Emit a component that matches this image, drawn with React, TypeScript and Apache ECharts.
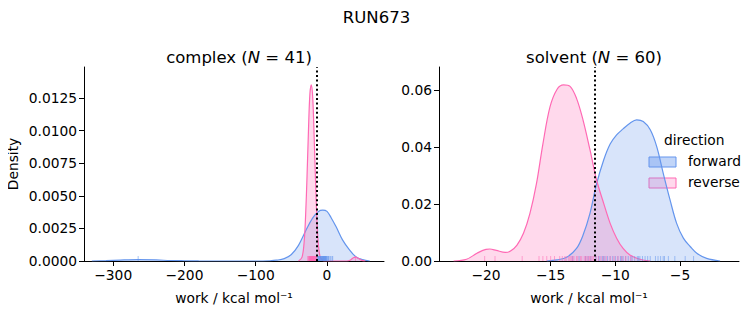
import React, { useEffect, useRef } from "react";
import * as echarts from "echarts";

// ---- data ----
const complexForwardKde: [number, number][] = [
  [-330, 0], [-310, 0.00003], [-290, 0.00007], [-265, 0.0001], [-240, 0.00008], [-220, 0.00004],
  [-200, 0.00002], [-180, 0.000005], [-150, 0], [-100, 0], [-80, 0.00002], [-71, 0.00006],
  [-60, 0.00018], [-50, 0.0005], [-40, 0.0012], [-30, 0.0023], [-20, 0.0033], [-12, 0.0038],
  [-6, 0.0039], [0, 0.0038], [6, 0.0033], [13, 0.0026], [22, 0.0016], [31, 0.0009], [41, 0.0003],
  [50, 0.0001], [60, 0],
];
const complexReverseKde: [number, number][] = [
  [-40, 0], [-35, 0.0003], [-32, 0.0015], [-30, 0.0035], [-28, 0.0065], [-26, 0.01], [-24, 0.0128],
  [-22, 0.0135], [-20, 0.0125], [-18, 0.0095], [-16, 0.006], [-14, 0.003], [-12, 0.0012],
  [-10, 0.0004], [-7, 0.0001], [-4, 0], [28, 0], [33, 0.00008], [37, 0.00025], [40, 0.0003],
  [44, 0.0002], [49, 0.00005], [54, 0],
];
const solventForwardKde: [number, number][] = [
  [-15.3, 0], [-14.5, 0.0004], [-13.76, 0.0013], [-13.0, 0.0044], [-12.5, 0.009], [-11.96, 0.0167],
  [-11.45, 0.027], [-10.9, 0.0354], [-10.4, 0.041], [-9.9, 0.0442], [-9.4, 0.0463], [-8.87, 0.0483],
  [-8.35, 0.0495], [-7.84, 0.0489], [-7.3, 0.046], [-6.8, 0.0401], [-6.3, 0.0308], [-5.77, 0.0214],
  [-5.26, 0.0132], [-4.74, 0.008], [-4.2, 0.005], [-3.7, 0.0027], [-2.94, 0.0009], [-1.9, 0],
];
const solventReverseKde: [number, number][] = [
  [-22.5, 0], [-21.5, 0.0006], [-20.7, 0.0027], [-20.0, 0.0041], [-19.7, 0.0042], [-19.2, 0.0037],
  [-18.5, 0.003], [-18.1, 0.0035], [-17.6, 0.0056], [-17.1, 0.0097], [-16.6, 0.0167], [-16.1, 0.027],
  [-15.6, 0.041], [-15.05, 0.054], [-14.5, 0.0602], [-14.0, 0.0617], [-13.5, 0.0612], [-13.0, 0.057],
  [-12.5, 0.0495], [-11.96, 0.039], [-11.45, 0.0284], [-10.9, 0.0202], [-10.4, 0.0132], [-9.9, 0.008],
  [-9.4, 0.0044], [-8.87, 0.0021], [-8.1, 0.0006], [-7.3, 0],
];

const complexForwardRug = [
  -265, -14.5, -13, -12, -11.2, -10.5, -10, -9.3, -8.8, -8.1, -7.5, -7, -6.4, -6, -5.5, -5, -4.4, -4,
  -3.5, -3, -2.6, -2, -1.5, -1, -0.3, 0.5, 1.5, 3, 5, 7, -9.7, -6.7, -4.8, -2.3, -12.5, -11.7, -8.4,
  -3.8, -1.2, 2.2, 8,
];
const complexReverseRug = [
  -27, -26.2, -25.5, -25, -24.6, -24.1, -23.7, -23.3, -23, -22.6, -22.3, -22, -21.7, -21.4, -21.1,
  -20.8, -20.5, -20.2, -19.9, -19.5, -19.1, -18.7, -18.3, -17.9, -17.4, -17, -16.5, -16, -15.5, -15,
  -14.5, -22.8, -21.9, -20.9, -20.1, -19.3, -23.5, -24.4, -18, -16.8, 40,
];
const solventReverseRug = [
  -20.1, -19.3, -17.2, -15.9, -15.6, -15.3, -15, -14.3, -14.1, -13.9, -13.8, -13.6, -13.5, -13.3,
  -13.2, -13, -12.9, -12.7, -12.6, -12.4, -12.3, -12.1, -12, -11.8, -11.7, -11.5, -11.3, -11.1, -10.9,
  -10.7, -10.4, -10.1, -9.8, -9.5, -14.7, -13.4, -12.2, -11.9, -9.2, -8.8,
];
const solventForwardRug = [
  -12.8, -12.3, -11.9, -11.5, -11.2, -11, -10.8, -10.6, -10.4, -10.2, -10, -9.8, -9.6, -9.4, -9.2,
  -9, -8.8, -8.5, -8.3, -8.1, -7.9, -7.7, -7.3, -6.9, -6.7, -6.5, -6.2, -5.9, -5.4, -4.6, -3.95,
  -10.9, -9.5, -8.7, -8.2, -7.5, -6.3, -13.3, -12.1, -11.3,
];

const complexVline = -14;
const solventVline = -11.6;

const complexXTicks = [-300, -200, -100, 0];
const complexYTicks = [0, 0.0025, 0.005, 0.0075, 0.01, 0.0125];
const solventXTicks = [-20, -15, -10, -5];
const solventYTicks = [0, 0.02, 0.04, 0.06];

const BLUE = "#6495ED";
const PINK = "#FF69B4";
const FONT = "DejaVu Sans";
const FS = 13.8;
const TFS = 16.5;

const minus = (s: string) => s.replace("-", "\u2212");

export default function App() {
  const ref = useRef<HTMLDivElement>(null);
  useEffect(() => {
    if (!ref.current) return;
    const chart = echarts.init(ref.current, null, { renderer: "svg" });

    const axisLine = { show: true, onZero: false, lineStyle: { color: "#000", width: 1 } };
    const axisTick = (vals: number[]) => ({
      show: true, length: 5, lineStyle: { color: "#000", width: 1 }, customValues: vals,
    });
    const axisLabel = (vals: number[], dec: number) => ({
      color: "#000", fontSize: FS, fontFamily: FONT, margin: 7, customValues: vals,
      formatter: (v: number) => minus(dec >= 0 ? v.toFixed(dec) : String(v)),
      showMinLabel: true, showMaxLabel: true,
    });
    const xName = {
      name: "work / kcal mol\u207B\u00B9", nameLocation: "middle" as const, nameGap: 30,
      nameTextStyle: { color: "#000", fontSize: FS, fontFamily: FONT },
    };

    const kde = (name: string, data: [number, number][], color: string, idx: number, vline?: number) => ({
      type: "line", name, data, xAxisIndex: idx, yAxisIndex: idx, showSymbol: false, symbol: "none",
      smooth: 0.35, lineStyle: { color, width: 1.2 }, itemStyle: { color },
      areaStyle: { color, opacity: 0.25 }, z: 2,
      markLine: vline === undefined ? undefined : {
        silent: true, symbol: "none", label: { show: false },
        lineStyle: { color: "#000", type: [2, 2.6], width: 2, opacity: 1 },
        data: [{ xAxis: vline }], z: 5,
      },
    });
    const rug = (data: number[], color: string, idx: number) => ({
      type: "custom", xAxisIndex: idx, yAxisIndex: idx, z: 3,
      data: data.map((v) => [v, 0]),
      renderItem: (_p: any, api: any) => {
        const p = api.coord([api.value(0), 0]);
        return {
          type: "line",
          shape: { x1: p[0], y1: p[1], x2: p[0], y2: p[1] - 5 },
          style: { stroke: color, lineWidth: 1, opacity: 0.55 },
        };
      },
    });

    const titleRich = {
      a: { fontSize: TFS, fontFamily: FONT, fontWeight: "normal", color: "#000" },
      i: { fontSize: TFS, fontFamily: FONT, fontWeight: "normal", fontStyle: "italic", color: "#000" },
    };

    chart.setOption({
      animation: false,
      backgroundColor: "#fff",
      title: [
        { text: "RUN673", left: "center", top: 4, textStyle: { fontSize: TFS, fontWeight: "normal", fontFamily: FONT, color: "#000" } },
        { text: "{a|complex (}{i|N}{a| = 41)}", left: 234, top: 44, textAlign: "center", textStyle: { fontWeight: "normal", rich: titleRich } },
        { text: "{a|solvent (}{i|N}{a| = 60)}", left: 589, top: 44, textAlign: "center", textStyle: { fontWeight: "normal", rich: titleRich } },
      ],
      grid: [
        { left: 84, top: 67, width: 300, height: 194 },
        { left: 439, top: 67, width: 300, height: 194 },
      ],
      xAxis: [
        { type: "value", gridIndex: 0, min: -341, max: 80, splitLine: { show: false }, axisLine, axisTick: axisTick(complexXTicks), axisLabel: axisLabel(complexXTicks, -1), ...xName },
        { type: "value", gridIndex: 1, min: -23.63, max: -0.44, splitLine: { show: false }, axisLine, axisTick: axisTick(solventXTicks), axisLabel: axisLabel(solventXTicks, -1), ...xName },
      ],
      yAxis: [
        { type: "value", gridIndex: 0, min: 0, max: 0.01487, splitLine: { show: false }, axisLine, axisTick: axisTick(complexYTicks), axisLabel: axisLabel(complexYTicks, 4),
          name: "Density", nameLocation: "middle", nameGap: 64, nameTextStyle: { color: "#000", fontSize: FS, fontFamily: FONT } },
        { type: "value", gridIndex: 1, min: 0, max: 0.068, splitLine: { show: false }, axisLine, axisTick: axisTick(solventYTicks), axisLabel: axisLabel(solventYTicks, 2) },
      ],
      series: [
        kde("forward", complexForwardKde, BLUE, 0, complexVline),
        kde("reverse", complexReverseKde, PINK, 0),
        rug(complexForwardRug, BLUE, 0),
        rug(complexReverseRug, PINK, 0),
        kde("forward", solventForwardKde, BLUE, 1, solventVline),
        kde("reverse", solventReverseKde, PINK, 1),
        rug(solventForwardRug, BLUE, 1),
        rug(solventReverseRug, PINK, 1),
      ],
      graphic: [
        { type: "text", left: 664, top: 133, style: { text: "direction", fontSize: FS, fontFamily: FONT, fill: "#000" } },
        { type: "rect", shape: { x: 649, y: 157, width: 27, height: 10 }, style: { fill: "rgba(100,149,237,0.4)", stroke: BLUE, lineWidth: 1 } },
        { type: "text", left: 688, top: 154, style: { text: "forward", fontSize: FS, fontFamily: FONT, fill: "#000" } },
        { type: "rect", shape: { x: 649, y: 178, width: 27, height: 10 }, style: { fill: "rgba(255,105,180,0.25)", stroke: PINK, lineWidth: 1 } },
        { type: "text", left: 688, top: 175, style: { text: "reverse", fontSize: FS, fontFamily: FONT, fill: "#000" } },
      ],
    });
    return () => chart.dispose();
  }, []);
  return <div ref={ref} style={{ width: 753, height: 325, margin: -8 }} />;
}
